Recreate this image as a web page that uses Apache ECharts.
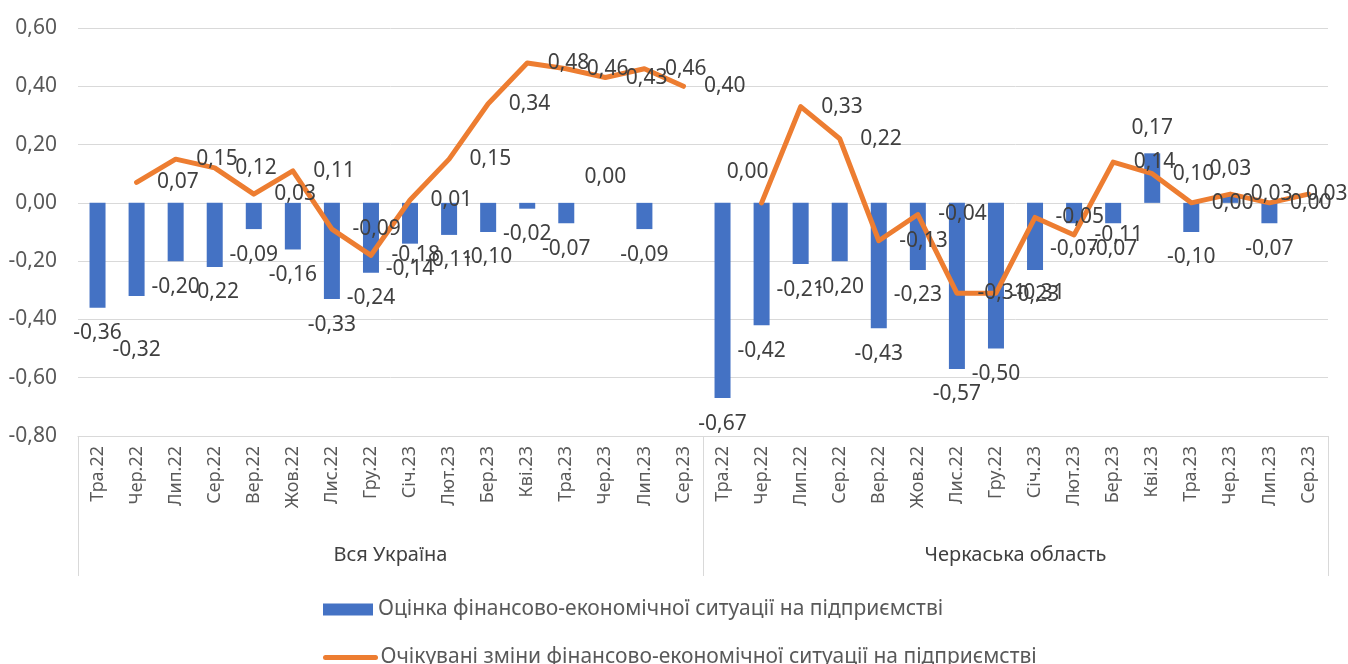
<!DOCTYPE html>
<html>
<head>
<meta charset="utf-8">
<script src="https://cdn.jsdelivr.net/npm/echarts@6/dist/echarts.min.js"></script>
<style>
  html, body { margin: 0; padding: 0; background: #fff; }
  #chart { width: 1348px; height: 664px; }
</style>
</head>
<body>
<div id="chart"></div>
<script>
// місяці для кожної групи
var months = ['Тра.22', 'Чер.22', 'Лип.22', 'Сер.22', 'Вер.22', 'Жов.22', 'Лис.22', 'Гру.22',
    'Січ.23', 'Лют.23', 'Бер.23', 'Кві.23', 'Тра.23', 'Чер.23', 'Лип.23', 'Сер.23'];
var groups = ['Вся Україна', 'Черкаська область'];

// Оцінка фінансово-економічної ситуації (стовпці)
var assessUkraine = [-0.36, -0.32, -0.20, -0.22, -0.09, -0.16, -0.33, -0.24, -0.14, -0.11, -0.10, -0.02, -0.07, 0.00, -0.09, null];
var assessCherkasy = [-0.67, -0.42, -0.21, -0.20, -0.43, -0.23, -0.57, -0.50, -0.23, -0.07, -0.07, 0.17, -0.10, 0.03, -0.07, null];

// Очікувані зміни (лінія)
var expectUkraine = [null, 0.07, 0.15, 0.12, 0.03, 0.11, -0.09, -0.18, 0.01, 0.15, 0.34, 0.48, 0.46, 0.43, 0.46, 0.40];
var expectCherkasy = [null, 0.00, 0.33, 0.22, -0.13, -0.04, -0.31, -0.31, -0.05, -0.11, 0.14, 0.10, 0.00, 0.03, 0.00, 0.03];

var yTicks = { min: -0.8, max: 0.6, interval: 0.2 };

var font = 'Noto Sans';
var barName = 'Оцінка фінансово-економічної ситуації на підприємстві';
var lineName = 'Очікувані зміни фінансово-економічної ситуації на підприємстві';
var categories = months.concat(months);
var assess = assessUkraine.concat(assessCherkasy);
var expect = expectUkraine.concat(expectCherkasy);

function fmt(v) {
    return v.toFixed(2).replace('.', ',');
}

var barData = assess.map(function (v, i) {
    if (v === null) return '-';
    var item = { value: v, label: { position: v >= 0 ? 'top' : 'bottom' } };
    if (i === 1) item.label.distance = 43; // підпис відсунутий вниз
    return item;
});

var lineData = expect.map(function (v, i) {
    if (v === null) return '-';
    var item = { value: v };
    if (i === 17) item.label = { position: 'top', offset: [-14, 0] };
    if (i === 31) item.label = { offset: [-23, 0] };
    return item;
});

var legendText = { fontSize: 21, color: '#595959', fontFamily: font };

var myChart = echarts.init(document.getElementById('chart'));
var option = {
    animation: false,
    textStyle: { fontFamily: font },
    grid: { left: 78, right: 20, top: 28, bottom: 228, containLabel: false },
    legend: [{
        left: 318,
        top: 594,
        itemWidth: 50,
        itemHeight: 12,
        textStyle: legendText,
        data: [{ name: barName, icon: 'rect' }]
    }, {
        left: 318,
        top: 642,
        itemWidth: 50,
        itemHeight: 12,
        textStyle: legendText,
        data: [{ name: lineName, itemStyle: { opacity: 0 }, lineStyle: { width: 5, cap: 'round' } }]
    }],
    xAxis: [{
        type: 'category',
        data: categories,
        position: 'bottom',
        axisLine: { onZero: false, lineStyle: { color: '#d9d9d9' } },
        axisTick: { show: false },
        axisLabel: { rotate: 90, interval: 0, margin: 10, fontSize: 18, color: '#595959' }
    }, {
        type: 'category',
        data: groups,
        position: 'bottom',
        axisLine: { show: false, onZero: false },
        axisTick: { show: true, length: 140, lineStyle: { color: '#d9d9d9' } },
        axisLabel: { margin: 109, fontSize: 20, color: '#404040' }
    }],
    yAxis: {
        type: 'value',
        min: yTicks.min,
        max: yTicks.max,
        interval: yTicks.interval,
        axisLine: { show: false },
        axisTick: { show: false },
        splitLine: { lineStyle: { color: '#d9d9d9', width: 1 } },
        axisLabel: {
            fontSize: 21, color: '#595959', margin: 21,
            formatter: function (v) { return fmt(v); }
        }
    },
    series: [{
        name: barName,
        type: 'bar',
        barWidth: 16,
        itemStyle: { color: '#4472C4' },
        label: {
            show: true, distance: 15, fontSize: 21, color: '#404040',
            formatter: function (p) { return fmt(p.value); }
        },
        data: barData,
        z: 2
    }, {
        name: lineName,
        type: 'line',
        symbol: 'circle',
        symbolSize: 1,
        showSymbol: true,
        connectNulls: false,
        lineStyle: { color: '#ED7D31', width: 5, cap: 'round', join: 'round' },
        itemStyle: { color: '#ED7D31' },
        label: {
            show: true, position: 'right', distance: 20, fontSize: 21, color: '#404040',
            formatter: function (p) { return fmt(p.value); }
        },
        data: lineData,
        z: 3
    }]
};
myChart.setOption(option);
</script>
</body>
</html>
